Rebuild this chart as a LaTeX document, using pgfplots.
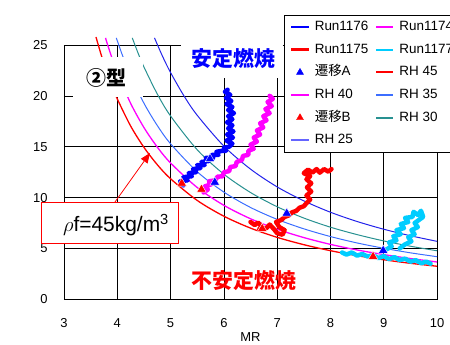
\documentclass[border=0pt]{standalone}
\usepackage{pgfplots}
\pgfplotsset{compat=1.18}
\usepackage{fontspec}
\setmainfont{Liberation Sans}
\newfontfamily\cjk{Noto Sans CJK JP}
\usetikzlibrary{arrows.meta}
\definecolor{rhff}{RGB}{255,0,0}
\definecolor{rhfo}{RGB}{255,0,255}
\definecolor{rhtf}{RGB}{60,110,255}
\definecolor{rhto}{RGB}{40,145,145}
\definecolor{rhtw}{RGB}{35,35,235}
\definecolor{rhtwl}{RGB}{100,100,255}
\definecolor{runcyan}{RGB}{0,205,255}
\begin{document}
\begin{tikzpicture}[x=1bp,y=1bp]
\begin{axis}[
  scale only axis, width=373bp, height=254.3bp,
  xmin=3, xmax=10, ymin=0, ymax=25,
  xtick={3,4,...,10}, ytick={0,5,...,25},
  grid=major, major grid style={black, line width=0.6bp},
  axis line style={black, line width=0.8bp},
  tick style={draw=none},
  clip=false,
  unbounded coords=jump,
  /pgf/number format/assume math mode=true,
  tick label style={font=\fontsize{13}{13}\selectfont},
  xticklabel style={anchor=base, yshift=-28bp},
  yticklabel style={anchor=east, xshift=-13bp},
  xlabel={MR}, ylabel={J},
  label style={font=\fontsize{13}{13}\selectfont},
  xlabel style={at={(axis description cs:0.5,0)}, anchor=center, yshift=-38bp},
  ylabel style={at={(axis description cs:0,0.5)}, anchor=center, xshift=-48bp},
  legend columns=2,
  legend cell align=left,
  legend style={at={(0.5898,1.119)}, anchor=north west, fill=white,
    font=\fontsize{13.5}{14}\selectfont, inner xsep=6bp, inner ysep=5.5bp, row sep=9.7bp,
    nodes={inner sep=0pt, text height=10bp, text depth=3bp},
    /tikz/every odd column/.append style={column sep=5bp},
    /tikz/every even column/.append style={column sep=7bp}},
]
\addlegendimage{draw=blue, line width=2bp}\addlegendentry{Run1176}
\addlegendimage{draw=rhfo, line width=2bp}\addlegendentry{Run1174}
\addlegendimage{draw=red, line width=2.6bp}\addlegendentry{Run1175}
\addlegendimage{draw=runcyan, line width=2bp}\addlegendentry{Run1177}
\addlegendimage{only marks, mark=triangle*, mark size=4bp, blue}\addlegendentry{{\cjk 遷移}A}
\addlegendimage{draw=rhff, line width=2bp}\addlegendentry{RH 45}
\addlegendimage{draw=rhfo, line width=2bp}\addlegendentry{RH 40}
\addlegendimage{draw=rhtf, line width=2bp}\addlegendentry{RH 35}
\addlegendimage{only marks, mark=triangle*, mark size=4bp, red}\addlegendentry{{\cjk 遷移}B}
\addlegendimage{draw=rhto, line width=2bp}\addlegendentry{RH 30}
\addlegendimage{draw=rhtwl, line width=2bp}\addlegendentry{RH 25}

% RH curves
\addplot[rhff, line width=1.3bp, smooth, forget plot] coordinates {(3.6,25.79) (3.7,24.0) (3.8,22.40) (3.9,20.98) (4.0,19.70) (4.25,17.04) (4.5,14.94) (4.75,13.24) (5,11.85) (5.5,9.72) (6,8.17) (6.5,7.00) (7,6.09) (7.5,5.37) (8,4.78) (8.5,4.29) (9,3.89) (9.5,3.54) (10,3.25)};
\addplot[rhfo, line width=1.3bp, smooth, forget plot] coordinates {(3.78,25.7) (3.8,25.33) (3.9,23.72) (4.0,22.28) (4.25,19.27) (4.5,16.89) (4.75,14.97) (5,13.40) (5.5,10.99) (6,9.24) (6.5,7.92) (7,6.89) (7.5,6.07) (8,5.40) (8.5,4.85) (9,4.40) (9.5,4.01) (10,3.67)};
\addplot[rhtf, line width=1bp, smooth, forget plot] coordinates {(3.98,25.7) (4.0,25.42) (4.1,23.94) (4.25,21.99) (4.5,19.28) (4.75,17.09) (5,15.29) (5.5,12.54) (6,10.54) (6.5,9.03) (7,7.86) (7.5,6.93) (8,6.17) (8.5,5.54) (9,5.02) (9.5,4.57) (10,4.19)};
\addplot[rhto, line width=1bp, smooth, forget plot] coordinates {(4.281,25.7) (4.4,24.07) (4.5,22.84) (4.75,20.19) (5,18.02) (5.5,14.70) (6,12.30) (6.5,10.50) (7,9.10) (7.5,7.99) (8,7.09) (8.5,6.36) (9,5.74) (9.5,5.22) (10,4.77)};
\addplot[rhtw, line width=1bp, smooth, forget plot] coordinates {(4.698,25.7) (4.85,23.88) (5,22.29) (5.25,20.01) (5.5,18.09) (6,15.06) (6.5,12.80) (7,11.05) (7.5,9.68) (8,8.56) (8.5,7.65) (9,6.89) (9.5,6.25) (10,5.70)};

% Run traces
\addplot[runcyan, line width=4.5bp, line join=round, line cap=round, forget plot] coordinates {
(8.22,4.6) (8.30,4.4) (8.40,4.6) (8.50,4.3) (8.60,4.45) (8.70,4.2) (8.80,4.35) (8.90,4.05) (9.00,4.25) (9.10,3.95) (9.20,4.15) (9.30,3.85) (9.40,4.0) (9.50,3.7) (9.60,3.85) (9.70,3.55) (9.80,3.7) (9.88,3.5)
(9.9,nan)
(9.05,4.9) (9.15,5.2) (9.10,5.6) (9.24,5.8) (9.18,6.2) (9.32,6.4) (9.24,6.8) (9.38,7.0) (9.32,7.4) (9.46,7.6) (9.40,8.0) (9.54,8.1) (9.56,8.6) (9.64,8.3) (9.70,8.7) (9.74,8.1) (9.66,7.8) (9.58,7.5) (9.64,7.1) (9.52,6.8) (9.58,6.4) (9.46,6.1) (9.52,5.7) (9.40,5.4) (9.30,5.0)};
\addplot[red, line width=4.5bp, line join=round, line cap=round, forget plot] coordinates {
(6.50,7.6) (6.58,7.3) (6.64,7.55) (6.72,7.15) (6.66,6.9) (6.80,7.0) (6.86,7.35) (6.94,6.9) (7.00,6.5) (7.10,6.35) (7.14,6.8) (7.04,7.1) (6.98,7.6) (7.08,7.8) (7.14,8.1) (7.22,8.25) (7.28,8.55) (7.36,8.7) (7.42,9.0) (7.50,9.15) (7.56,9.5) (7.62,9.8) (7.55,10.2) (7.64,10.6) (7.56,11.0) (7.64,11.4) (7.55,11.8) (7.62,12.1) (7.50,12.4) (7.58,12.75) (7.66,12.45) (7.74,12.8) (7.80,12.45) (7.88,12.8) (7.96,12.55) (8.02,12.8)};
\addplot[rhfo, line width=4.5bp, line join=round, line cap=round, forget plot] coordinates {
(5.62,10.5) (5.70,10.8) (5.64,11.1) (5.76,11.3) (5.72,11.6) (5.84,11.7) (5.88,12.05) (5.98,12.1) (6.00,12.5) (6.10,12.6) (6.12,13.0) (6.22,13.1) (6.24,13.5) (6.34,13.7) (6.36,14.1) (6.46,14.2) (6.46,14.6) (6.56,14.8) (6.50,15.2) (6.62,15.5) (6.56,15.9) (6.68,16.2) (6.62,16.6) (6.74,16.9) (6.68,17.3) (6.80,17.6) (6.74,18.0) (6.86,18.3) (6.78,18.7) (6.90,19.0) (6.82,19.4) (6.92,19.7) (6.86,20.0)};
\addplot[blue, line width=4.5bp, line join=round, line cap=round, forget plot] coordinates {
(5.24,11.2) (5.18,11.6) (5.32,11.7) (5.24,12.0) (5.40,12.1) (5.34,12.4) (5.48,12.5) (5.42,12.8) (5.56,12.9) (5.50,13.2) (5.64,13.2) (5.58,13.5) (5.72,13.6) (5.66,13.9) (5.80,13.9) (5.78,14.2) (5.90,14.2) (5.86,14.5) (5.97,14.6) (6.04,14.6) (6.00,14.9) (6.10,15.0) (6.16,15.3) (6.05,15.6) (6.17,15.9) (6.06,16.2) (6.18,16.5) (6.08,16.8) (6.16,17.1) (6.06,17.4) (6.16,17.7) (6.08,18.0) (6.19,18.3) (6.08,18.6) (6.16,18.9) (6.05,19.2) (6.14,19.5) (6.04,19.8) (6.12,20.1) (6.02,20.4) (6.07,20.6)};

% transition points
\addplot[only marks, mark=triangle*, mark size=5.5bp, blue, mark options={draw=white, line width=0.4bp}, forget plot] coordinates {(5.74,13.8) (5.83,11.5) (7.18,8.45) (8.99,4.8)};
\addplot[only marks, mark=triangle*, mark size=5.5bp, red, mark options={draw=white, line width=0.4bp}, forget plot] coordinates {(5.21,11.4) (5.58,10.8) (6.72,6.95) (8.80,4.2)};
\end{axis}
% annotations
\node[fill=white, minimum width=70bp, minimum height=40bp, inner sep=0pt] at (44,222.3) {};
\node at (42,221.3) {\fontsize{20}{20}\selectfont\cjk\bfseries ②型};
\node[fill=white, minimum width=102bp, minimum height=48bp, inner sep=0pt] at (168,245.3) {};
\node[text=blue] at (169.5,240.3) {\fontsize{21}{21}\selectfont\cjk\bfseries 安定燃焼};
\node[text=red] at (180,18.3) {\fontsize{21}{21}\selectfont\cjk\bfseries 不安定燃焼};
\draw[red, line width=1bp, fill=white] (-22,56.3) rectangle (114,97.3);
\node[anchor=base, inner sep=0pt] at (52,67.6) {\fontsize{21}{21}\selectfont$\rho$f=45kg/m\textsuperscript{3}};
\draw[red, line width=0.8bp, -{Triangle[length=10bp,width=8bp]}] (51,97.3) -- (86,146.3);
\pgfresetboundingbox
\path[use as bounding box] (-64,-44.7) rectangle (386,299.3);
\end{tikzpicture}
\end{document}
